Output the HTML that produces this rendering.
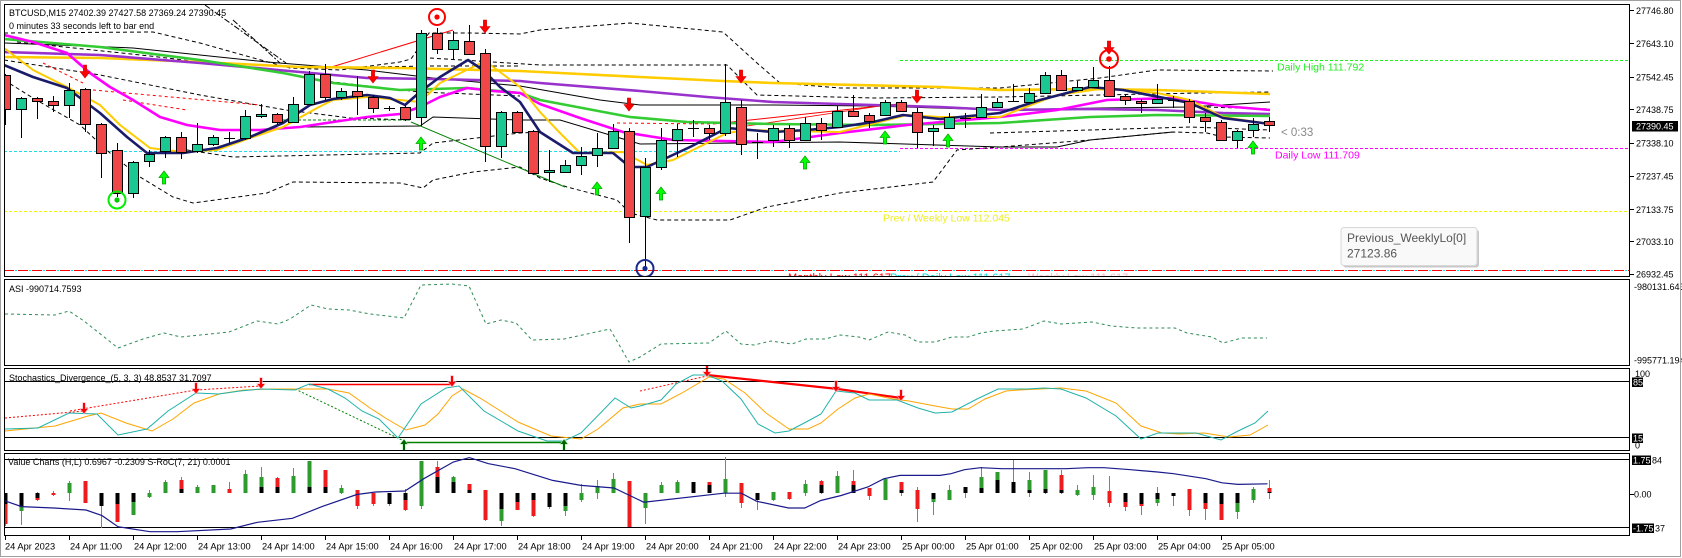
<!DOCTYPE html>
<html><head><meta charset="utf-8"><style>
html,body{margin:0;padding:0;background:#fff;}
svg{display:block;}
text{font-family:"Liberation Sans",Arial,sans-serif;}
</style></head><body>
<svg width="1682" height="558" viewBox="0 0 1682 558" xmlns="http://www.w3.org/2000/svg">
<defs>
<clipPath id="cm"><rect x="5" y="5" width="1624" height="271"/></clipPath>
<clipPath id="cs"><rect x="5" y="280" width="1624" height="255"/></clipPath>
<path id="dn" d="M-1.6,-7H1.6V-0.5H5L0,6L-5,-0.5H-1.6Z"/>
<path id="up" d="M-1.6,7H1.6V0.5H5L0,-6L-5,0.5H-1.6Z"/>
<path id="sdn" d="M-1,-6H1V0H3.5L0,4.5L-3.5,0H-1Z"/>
<path id="sup" d="M-1,6H1V0H3.5L0,-4.5L-3.5,0H-1Z"/>
</defs>
<rect x="0" y="0" width="1682" height="558" fill="#fff"/>
<rect x="0.5" y="0.5" width="1680" height="556" fill="none" stroke="#a0a0a0"/>

<!-- MAIN CHART -->
<g clip-path="url(#cm)">
<line x1="4" y1="151.5" x2="900" y2="151.5" stroke="#22dbe6" stroke-dasharray="3 2"/>
<line x1="900" y1="60.5" x2="1630" y2="60.5" stroke="#22ee22" stroke-dasharray="3 2"/>
<line x1="900" y1="148.5" x2="1630" y2="148.5" stroke="#ff00ff" stroke-dasharray="3 2"/>
<line x1="4" y1="211.5" x2="1630" y2="211.5" stroke="#f2f200" stroke-dasharray="3 2"/>
<line x1="4" y1="270.5" x2="1630" y2="270.5" stroke="#ff0000" stroke-dasharray="10 4"/>
<line x1="4" y1="270.5" x2="1630" y2="270.5" stroke="#00e5ee" stroke-dasharray="2 12" stroke-dashoffset="-11"/>

<g fill="none" stroke="#000" stroke-width="1">
<polyline points="4,43 133,48 267,62 367,70 433,78 520,86 600,100 640,105 773,105 873,106 1000,110 1100,108 1190,107 1270,102"/>
<polyline stroke-dasharray="4 3" points="4,33 153,32 200,43 250,57 290,68 340,70 400,62 411,59 429,33 470,33 520,34 540,30 630,23 723,32 757,63 780,83 840,88 1000,88 1100,78 1157,70 1273,71"/>
<polyline stroke-dasharray="4 3" points="17,42 150,56 267,70 333,82 420,92 520,96"/>
<polyline stroke-dasharray="4 3" points="4,60 100,75 200,95 286,110 350,118 411,120"/>
<polyline stroke-dasharray="4 3" points="4,80 33,98 80,125 110,153 140,177 173,197 193,203 230,198 267,193 293,182 400,183 423,188 433,180 473,172 520,167 540,178 567,187 617,200 630,213 657,220 730,220 767,207 840,193 933,182 957,150 1000,147 1090,140 1173,132 1207,133 1223,137 1270,138"/>
<polyline stroke-dasharray="4 3" points="187,150 233,157 420,153 433,143 520,133 540,132"/>
<polyline points="300,127 420,126 433,117 520,120 560,120 640,144 840,142 1000,147 1057,147 1090,140 1173,132"/>
<polyline stroke-dasharray="6 2 2 2" points="233,20 280,63"/>
<polyline stroke-dasharray="6 2 2 2" points="205,5 286,63"/>
<polyline stroke-dasharray="4 3" points="430,58 540,65 727,65 757,95 873,98 1000,97 1100,95 1200,93 1270,92"/>
<polyline stroke-dasharray="4 3" points="367,67 433,66 520,66"/>
<polyline stroke-dasharray="4 3" points="990,133 1190,127 1270,130"/>
<polyline stroke-dasharray="4 3" points="1207,107 1270,109"/>
</g>

<line x1="325" y1="69" x2="453" y2="30" stroke="#ff0000"/>
<line x1="43" y1="63" x2="83" y2="83" stroke="#ff0000" stroke-dasharray="3 3"/>
<line x1="93" y1="90" x2="260" y2="105" stroke="#ff0000" stroke-dasharray="3 3"/>
<line x1="123" y1="100" x2="187" y2="110" stroke="#ff0000" stroke-dasharray="3 3"/>
<line x1="617" y1="123" x2="713" y2="124" stroke="#ff0000" stroke-dasharray="3 3"/>
<line x1="713" y1="124" x2="907" y2="103" stroke="#ff0000"/>
<line x1="740" y1="127" x2="880" y2="106" stroke="#ff0000" stroke-width="0.8"/>
<line x1="283" y1="120" x2="410" y2="120" stroke="#008000" stroke-dasharray="3 2"/>
<line x1="411" y1="122" x2="565" y2="187" stroke="#008000"/>

<g fill="none" stroke-linejoin="round">
<polyline stroke="#ffcc00" stroke-width="2.6" points="4,57 100,58 200,62 300,67 400,68 520,71 560,73 640,77 723,81 773,83 940,87 1000,90 1090,89 1157,90 1270,94"/>
<polyline stroke="#9932cc" stroke-width="2.6" points="4,52 100,55 200,63 300,72 367,78 433,79 520,81 540,83 640,91 707,97 773,102 873,105 940,107 1000,110 1090,109 1157,110 1223,113 1270,114"/>
<polyline stroke="#33cc33" stroke-width="2.6" points="4,39 100,47 200,60 283,73 333,83 400,90 467,88 520,93 540,100 630,117 687,122 773,124 873,125 1000,123 1090,117 1157,115 1270,116"/>
<polyline stroke="#ff00ff" stroke-width="2.6" points="4,35 33,42 67,53 90,73 110,87 133,100 160,117 187,125 220,130 260,130 300,127 333,122 367,117 400,114 420,107 440,97 467,88 493,91 520,93 540,104 580,118 623,132 673,140 773,142 840,133 907,125 1000,117 1057,110 1107,100 1173,98 1223,106 1270,110"/>
<polyline stroke="#ffcc00" stroke-width="2" points="4,48 33,70 67,87 100,105 120,125 150,148 183,152 217,150 250,138 283,127 317,108 333,100 367,97 400,100 420,102 440,83 485,61 500,72 520,87 540,112 560,133 580,153 623,152 647,165 673,160 727,133 747,130 840,132 907,115 940,117 1000,117 1057,95 1107,88 1157,93 1190,100 1223,117 1270,124"/>
<polyline stroke="#1b1b6b" stroke-width="2.6" points="4,65 33,77 67,88 100,113 127,137 147,153 183,153 217,148 250,137 283,123 310,105 333,99 367,95 390,98 405,105 420,92 440,77 468,60 483,70 500,87 520,102 540,132 573,153 613,153 630,167 647,167 690,147 727,128 773,132 807,130 840,127 873,122 903,115 940,119 1000,113 1040,100 1090,87 1123,90 1190,103 1223,118 1270,124"/>
</g>

<path fill="none" stroke="#000" stroke-width="1" d="M5.5 74V125M21.5 97V138M37.5 97V119M53.5 96V112M69.5 83V118M85.5 88V132M101.5 123V178M117.5 143V197M133.5 161V198M149.5 150V167M165.5 136V158M181.5 132V159M197.5 123V153M213.5 135V146M229.5 132V143M245.5 110V140M261.5 104V118M277.5 113V125M293.5 97V123M309.5 71V105M325.5 64V100M341.5 88V100M357.5 76V115M373.5 95V113M389.5 106V111M405.5 105V121M421.5 30V126M437.5 28V54M453.5 31V59M469.5 25V55M485.5 49V162M501.5 111V158M517.5 111V133M533.5 130V174M549.5 150V182M565.5 160V172M581.5 147V175M597.5 133V167M613.5 124V149M629.5 128V243M645.5 158V267M661.5 128V170M677.5 124V157M693.5 120V137M709.5 125V140M725.5 64V136M741.5 100V155M757.5 133V159M773.5 125V147M789.5 125V148M805.5 117V141M821.5 118V140M837.5 106V128M853.5 95V117M869.5 113V128M885.5 100V116M901.5 100V112M917.5 108V148M933.5 125V146M949.5 113V129M965.5 113V128M981.5 94V118M997.5 98V108M1013.5 84V102M1029.5 88V103M1045.5 72V94M1061.5 70V91M1077.5 81V91M1093.5 67V88M1109.5 66V97M1125.5 95V105M1141.5 99V113M1157.5 84V104M1173.5 96V108M1189.5 99V123M1205.5 113V132M1221.5 120V141M1237.5 130V148M1253.5 118V137M1269.5 117V132"/>
<path fill="none" stroke="#000" d="M224 138.5H235M384 108.5H395M688 128.5H699M752 142.5H763M960 118.5H971M1008 101.5H1019M1168 100.5H1179"/>
<g fill="#1cc891" stroke="#000" stroke-width="1">
<rect x="16.5" y="98.5" width="10" height="11"/><rect x="64.5" y="90.5" width="10" height="15"/><rect x="128.5" y="162.5" width="10" height="31"/><rect x="144.5" y="154.5" width="10" height="7"/><rect x="160.5" y="137.5" width="10" height="14"/><rect x="192.5" y="144.5" width="10" height="7"/><rect x="208.5" y="137.5" width="10" height="7"/><rect x="240.5" y="116.5" width="10" height="22"/><rect x="256.5" y="114.5" width="10" height="2"/><rect x="288.5" y="104.5" width="10" height="18"/><rect x="304.5" y="74.5" width="10" height="30"/><rect x="336.5" y="91.5" width="10" height="6"/><rect x="416.5" y="33.5" width="10" height="84"/><rect x="448.5" y="40.5" width="10" height="9"/><rect x="496.5" y="112.5" width="10" height="34"/><rect x="544.5" y="170.5" width="10" height="2"/><rect x="560.5" y="165.5" width="10" height="7"/><rect x="576.5" y="156.5" width="10" height="9"/><rect x="592.5" y="148.5" width="10" height="7"/><rect x="608.5" y="131.5" width="10" height="17"/><rect x="640.5" y="167.5" width="10" height="49"/><rect x="656.5" y="140.5" width="10" height="27"/><rect x="672.5" y="129.5" width="10" height="11"/><rect x="720.5" y="102.5" width="10" height="31"/><rect x="768.5" y="128.5" width="10" height="12"/><rect x="800.5" y="123.5" width="10" height="17"/><rect x="832.5" y="111.5" width="10" height="16"/><rect x="880.5" y="102.5" width="10" height="13"/><rect x="928.5" y="128.5" width="10" height="3"/><rect x="944.5" y="117.5" width="10" height="11"/><rect x="976.5" y="107.5" width="10" height="10"/><rect x="992.5" y="102.5" width="10" height="5"/><rect x="1024.5" y="93.5" width="10" height="9"/><rect x="1040.5" y="75.5" width="10" height="18"/><rect x="1072.5" y="87.5" width="10" height="3"/><rect x="1088.5" y="80.5" width="10" height="7"/><rect x="1152.5" y="99.5" width="10" height="4"/><rect x="1232.5" y="131.5" width="10" height="9"/><rect x="1248.5" y="124.5" width="10" height="6"/>
</g>
<g fill="#ef4747" stroke="#000" stroke-width="1">
<rect x="0.5" y="75.5" width="10" height="34"/><rect x="32.5" y="98.5" width="10" height="3"/><rect x="48.5" y="101.5" width="10" height="4"/><rect x="80.5" y="89.5" width="10" height="35"/><rect x="96.5" y="124.5" width="10" height="29"/><rect x="112.5" y="150.5" width="10" height="43"/><rect x="176.5" y="137.5" width="10" height="15"/><rect x="272.5" y="114.5" width="10" height="8"/><rect x="320.5" y="74.5" width="10" height="23"/><rect x="352.5" y="91.5" width="10" height="5"/><rect x="368.5" y="97.5" width="10" height="11"/><rect x="400.5" y="107.5" width="10" height="12"/><rect x="432.5" y="33.5" width="10" height="16"/><rect x="464.5" y="41.5" width="10" height="13"/><rect x="480.5" y="53.5" width="10" height="93"/><rect x="512.5" y="112.5" width="10" height="20"/><rect x="528.5" y="131.5" width="10" height="42"/><rect x="624.5" y="131.5" width="10" height="86"/><rect x="704.5" y="128.5" width="10" height="5"/><rect x="736.5" y="107.5" width="10" height="37"/><rect x="784.5" y="128.5" width="10" height="12"/><rect x="816.5" y="123.5" width="10" height="7"/><rect x="848.5" y="111.5" width="10" height="5"/><rect x="864.5" y="115.5" width="10" height="6"/><rect x="896.5" y="102.5" width="10" height="9"/><rect x="912.5" y="112.5" width="10" height="20"/><rect x="1056.5" y="75.5" width="10" height="15"/><rect x="1104.5" y="80.5" width="10" height="16"/><rect x="1120.5" y="96.5" width="10" height="4"/><rect x="1136.5" y="101.5" width="10" height="2"/><rect x="1184.5" y="101.5" width="10" height="16"/><rect x="1200.5" y="117.5" width="10" height="4"/><rect x="1216.5" y="122.5" width="10" height="18"/><rect x="1264.5" y="121.5" width="10" height="4"/>
</g>

<g fill="#ff0000" stroke="#d00000" stroke-width="0.6">
<use href="#dn" x="85" y="72"/><use href="#dn" x="373" y="77"/><use href="#dn" x="485" y="27"/><use href="#dn" x="629" y="105"/><use href="#dn" x="741" y="77"/><use href="#dn" x="917" y="97"/><use href="#dn" x="1109" y="48"/>
</g>
<g fill="#00ff00" stroke="#00a000" stroke-width="0.7">
<use href="#up" x="164" y="177"/><use href="#up" x="421" y="143"/><use href="#up" x="597" y="188"/><use href="#up" x="661" y="193"/><use href="#up" x="805" y="162"/><use href="#up" x="885" y="137"/><use href="#up" x="948" y="140"/><use href="#up" x="1253" y="147"/>
</g>
<circle cx="437" cy="17" r="8" fill="none" stroke="#ff0000" stroke-width="2"/><circle cx="437" cy="17" r="2.6" fill="#ff0000"/>
<circle cx="117" cy="200" r="8.5" fill="none" stroke="#00ee00" stroke-width="2"/><circle cx="117" cy="200" r="2.6" fill="#00cc00"/>
<circle cx="645" cy="268.5" r="8.5" fill="none" stroke="#1a2a8c" stroke-width="2"/><circle cx="645" cy="268.5" r="2.6" fill="#1a2a8c"/>
<circle cx="1109" cy="59" r="9" fill="none" stroke="#ff0000" stroke-width="2"/><circle cx="1109" cy="59" r="2.8" fill="#ff0000"/>

<text x="1277" y="70.5" font-size="10.5" fill="#22ee22">Daily High 111.792</text>
<text x="1275" y="158.5" font-size="10.5" fill="#ff00ff">Daily Low 111.709</text>
<text x="1281" y="136" font-size="11.5" fill="#888">&lt; 0:33</text>
<text x="883" y="221.5" font-size="10.5" fill="#eeee22">Prev / Weekly Low 112.045</text>
<text x="788" y="281" font-size="11" fill="#ff0000">Monthly Low 111.617</text>
<text x="890" y="281" font-size="11" fill="#00e0e8">Prev / Daily Low 111.617</text>
<text x="1028" y="281" font-size="11" fill="#ffb6c1">Weekly Low 111.617</text>

<text x="9" y="16" font-size="9" fill="#000">BTCUSD,M15  27402.39 27427.58 27369.24 27390.45</text>
<text x="9" y="29" font-size="9" fill="#000">0 minutes 33 seconds left to bar end</text>
</g>

<rect x="1343" y="229.5" width="136" height="38" rx="3" fill="#9a9a9a" opacity="0.55"/>
<rect x="1341" y="227.5" width="136" height="38" rx="3" fill="#f9f9f9" stroke="#d8d8d8"/>
<text x="1347" y="242" font-size="12" fill="#555">Previous_WeeklyLo[0]</text>
<text x="1347" y="257.5" font-size="12" fill="#555">27123.86</text>

<g clip-path="url(#cs)">
<polyline fill="none" stroke="#2e8b57" stroke-width="1" stroke-dasharray="3 3" points="5,314 55,315 69,311 84,321 118,348 143,339 164,333 181,337 229,332 257,321 278,324 290,319 311,305 328,309 349,310 370,314 404,318 421,285 452,284 469,286 486,324 501,320 516,323 532,340 564,339 610,329 629,362 640,357 661,344 709,343 726,331 741,344 754,345 771,341 792,344 806,339 825,339 840,335 859,337 869,340 888,332 905,335 918,342 935,342 952,337 968,337 981,333 994,331 1023,329 1044,321 1061,324 1092,322 1111,326 1137,328 1175,328 1187,333 1212,337 1223,343 1242,338 1267,338"/>

<line x1="5" y1="381.5" x2="1630" y2="381.5" stroke="#000"/>
<line x1="5" y1="437.5" x2="1630" y2="437.5" stroke="#000"/>
<polyline fill="none" stroke="#ff0000" stroke-dasharray="2 2" points="5,418 84,411"/>
<polyline fill="none" stroke="#ff0000" stroke-dasharray="2 2" points="70,411 196,390 261,386"/>
<polyline fill="none" stroke="#ff0000" stroke-dasharray="2 2" points="640,391 707,376"/>
<line x1="309" y1="384.5" x2="452" y2="384.5" stroke="#ff0000" stroke-width="1.5"/>
<polyline fill="none" stroke="#ff0000" stroke-width="2.2" points="707,375 838,389 901,398"/>
<line x1="295" y1="389" x2="404" y2="441" stroke="#008000" stroke-dasharray="2 2"/>
<line x1="404" y1="442.5" x2="564" y2="442.5" stroke="#008000" stroke-width="1.5"/>
<polyline fill="none" stroke="#ffa500" stroke-width="1" points="5,431 55,426 88,416 101,413 126,423 152,431 173,419 194,403 219,394 244,390 274,389 303,389 328,389 349,393 370,408 387,419 406,430 425,425 438,414 452,396 463,389 480,398 518,422 551,436 581,439 598,429 623,408 640,404 661,404 682,393 709,377 724,379 745,393 766,413 789,429 808,429 821,423 838,409 855,398 869,394 893,399 909,401 935,406 952,409 968,409 985,399 1006,391 1019,390 1061,388 1086,391 1116,403 1141,426 1162,433 1179,434 1204,433 1229,437 1250,435 1268,425"/>
<polyline fill="none" stroke="#20b2aa" stroke-width="1" points="5,429 38,428 69,413 97,414 118,435 147,429 168,411 196,393 219,394 240,391 261,389 295,390 309,384 328,389 345,398 362,411 379,419 398,438 421,404 446,388 459,386 484,411 518,431 547,441 564,441 581,433 615,398 631,408 640,406 661,400 676,384 693,375 707,375 722,381 741,399 758,424 775,433 789,431 808,421 821,414 836,391 855,393 869,400 897,400 918,408 935,413 952,412 977,399 998,389 1027,389 1044,388 1061,389 1086,398 1116,416 1141,439 1158,433 1196,433 1221,440 1238,431 1255,423 1268,411"/>
<g fill="#ff0000" stroke="#ffb0c0" stroke-width="1.2" paint-order="stroke">
<use href="#sdn" x="84" y="409"/><use href="#sdn" x="196" y="389"/><use href="#sdn" x="261" y="384"/><use href="#sdn" x="452" y="382"/><use href="#sdn" x="707" y="372"/><use href="#sdn" x="836" y="387"/><use href="#sdn" x="901" y="396"/>
</g>
<g fill="#006400" stroke="#b0f0b0" stroke-width="1.2" paint-order="stroke">
<use href="#sup" x="404" y="444"/><use href="#sup" x="564" y="444"/>
</g>

<line x1="5" y1="459.5" x2="1630" y2="459.5" stroke="#000"/>
<line x1="5" y1="527.5" x2="1630" y2="527.5" stroke="#000"/>
<path fill="none" stroke="#808080" stroke-width="1" d="M5.5 493V526M21.5 493V525M37.5 492V501M53.5 491V496M69.5 481V501M85.5 481V503M101.5 494V528M117.5 493V522M133.5 493V515M149.5 490V498M165.5 480V493M181.5 477V493M197.5 485V493M213.5 485V493M229.5 482V493M245.5 470V493M261.5 467V493M277.5 477V493M293.5 468V493M309.5 461V493M325.5 470V493M341.5 485V494M357.5 490V509M373.5 493V506M389.5 493V506M405.5 489V511M421.5 461V509M437.5 461V493M453.5 476V493M469.5 484V493M485.5 490V521M501.5 493V526M517.5 493V510M533.5 493V517M549.5 493V509M565.5 493V516M581.5 484V502M597.5 480V499M613.5 473V493M629.5 481V527M645.5 493V524M661.5 482V493M677.5 480V493M693.5 482V493M709.5 482V493M725.5 457V497M741.5 483V508M757.5 493V510M773.5 492V501M789.5 492V500M805.5 480V496M821.5 480V494M837.5 471V493M853.5 470V493M869.5 488V500M885.5 479V500M901.5 482V496M917.5 487V522M933.5 493V515M949.5 485V500M965.5 487V498M981.5 467V493M997.5 472V493M1013.5 460V493M1029.5 472V497M1045.5 470V494M1061.5 470V494M1077.5 485V496M1093.5 475V500M1109.5 476V507M1125.5 493V511M1141.5 493V515M1157.5 487V506M1173.5 493V506M1189.5 489V516M1205.5 493V520M1221.5 493V520M1237.5 493V519M1253.5 487V503M1269.5 480V499"/>
<path fill="#000" d="M3.5 493h4V504h-4ZM19.5 493h4V507h-4ZM35.5 493h4V499h-4ZM99.5 493h4V506h-4ZM115.5 493h4V504h-4ZM131.5 493h4V502h-4ZM179.5 489h4V493h-4ZM259.5 487h4V493h-4ZM275.5 487h4V493h-4ZM307.5 487h4V493h-4ZM323.5 487h4V493h-4ZM387.5 493h4V504h-4ZM403.5 493h4V500h-4ZM435.5 477h4V493h-4ZM451.5 482h4V493h-4ZM467.5 490h4V493h-4ZM499.5 493h4V509h-4ZM515.5 493h4V502h-4ZM531.5 493h4V500h-4ZM547.5 493h4V507h-4ZM563.5 493h4V506h-4ZM691.5 482h4V493h-4ZM707.5 485h4V493h-4ZM755.5 493h4V500h-4ZM819.5 485h4V493h-4ZM851.5 485h4V493h-4ZM899.5 490h4V493h-4ZM931.5 493h4V499h-4ZM963.5 487h4V493h-4ZM979.5 488h4V493h-4ZM995.5 480h4V493h-4ZM1011.5 482h4V493h-4ZM1027.5 490h4V493h-4ZM1043.5 489h4V493h-4ZM1059.5 490h4V493h-4ZM1123.5 493h4V502h-4ZM1139.5 493h4V504h-4ZM1155.5 493h4V499h-4ZM1171.5 493h4V496h-4ZM1203.5 493h4V503h-4ZM1219.5 493h4V504h-4ZM1235.5 493h4V503h-4ZM1267.5 492h4V493h-4Z"/>
<path fill="#2e9b2e" d="M19.5 507h4V511h-4ZM67.5 483h4V493h-4ZM131.5 502h4V515h-4ZM147.5 493h4V497h-4ZM163.5 482h4V493h-4ZM195.5 487h4V493h-4ZM211.5 485h4V493h-4ZM243.5 474h4V493h-4ZM259.5 477h4V487h-4ZM291.5 476h4V493h-4ZM307.5 461h4V487h-4ZM339.5 488h4V493h-4ZM419.5 461h4V506h-4ZM451.5 477h4V482h-4ZM499.5 509h4V521h-4ZM563.5 506h4V511h-4ZM579.5 493h4V500h-4ZM595.5 486h4V493h-4ZM611.5 479h4V493h-4ZM643.5 493h4V508h-4ZM659.5 485h4V493h-4ZM675.5 482h4V493h-4ZM723.5 479h4V493h-4ZM771.5 492h4V500h-4ZM803.5 484h4V493h-4ZM835.5 476h4V493h-4ZM883.5 479h4V500h-4ZM931.5 499h4V502h-4ZM947.5 490h4V500h-4ZM979.5 477h4V488h-4ZM995.5 472h4V480h-4ZM1027.5 480h4V490h-4ZM1043.5 470h4V489h-4ZM1075.5 490h4V495h-4ZM1091.5 487h4V495h-4ZM1155.5 499h4V503h-4ZM1235.5 503h4V512h-4ZM1251.5 489h4V500h-4Z"/>
<path fill="#ee1c1c" d="M3.5 504h4V524h-4ZM35.5 498h4V500h-4ZM51.5 493h4V495h-4ZM83.5 481h4V503h-4ZM115.5 504h4V522h-4ZM179.5 480h4V489h-4ZM227.5 489h4V493h-4ZM275.5 478h4V487h-4ZM323.5 470h4V487h-4ZM355.5 490h4V506h-4ZM371.5 493h4V504h-4ZM403.5 500h4V510h-4ZM435.5 467h4V477h-4ZM467.5 484h4V490h-4ZM483.5 490h4V520h-4ZM515.5 502h4V510h-4ZM531.5 500h4V516h-4ZM627.5 481h4V527h-4ZM707.5 482h4V485h-4ZM739.5 483h4V503h-4ZM787.5 492h4V499h-4ZM819.5 481h4V485h-4ZM851.5 481h4V485h-4ZM867.5 488h4V496h-4ZM899.5 482h4V490h-4ZM915.5 490h4V509h-4ZM1059.5 475h4V490h-4ZM1107.5 491h4V503h-4ZM1123.5 502h4V507h-4ZM1139.5 504h4V506h-4ZM1187.5 489h4V510h-4ZM1203.5 503h4V509h-4ZM1219.5 504h4V520h-4ZM1267.5 488h4V492h-4Z"/>
<polyline fill="none" stroke="#1a1a8c" stroke-width="1.2" points="4,500.5 21.5,506.6 53.6,508 86,510 102,515.6 118,526.7 150,531.7 177,531.7 230.7,529 257.5,522.3 292.4,518.3 322,506.6 356.8,494.5 375.5,492 405,491 423.8,478.7 453.3,462 469.4,457.6 488,463.6 515,468.7 552.6,480.4 581,485.4 614,488 643.8,502.2 724,493.2 741.4,493.2 756.4,501.2 788.6,508 804.7,508 820.8,500.5 841.2,495.5 867.8,487 884,478.7 900,475.4 940,475.4 951,473.7 964.4,469.7 980.5,467.7 1002,468.7 1045,468.7 1066,468.7 1087.8,467.7 1104,467.7 1130.7,469.7 1157.5,472 1173.6,473.7 1206,478.7 1222,482.8 1238,484.4 1267.5,483.8"/>
</g>

<text x="9" y="292" font-size="9" fill="#000">ASI -990714.7593</text>
<text x="9" y="381" font-size="9" fill="#000">Stochastics_Divergence_(5, 3, 3) 48.8537 31.7097</text>
<text x="8" y="465" font-size="9" fill="#000">Value Charts (H,L) 0.6967 -0.2309  S-RoC(7, 21) 0.0001</text>

<g fill="none" stroke="#000" stroke-width="1">
<rect x="4.5" y="4.5" width="1625" height="272"/>
<rect x="4.5" y="279.5" width="1625" height="86"/>
<rect x="4.5" y="368.5" width="1625" height="82"/>
<rect x="4.5" y="453.5" width="1625" height="82"/>
</g>

<path stroke="#000" fill="none" d="M1630 10.5h4M1630 43.5h4M1630 77.5h4M1630 109.5h4M1630 143.5h4M1630 176.5h4M1630 209.5h4M1630 241.5h4M1630 274.5h4M1630 494.5h4"/>
<g font-size="9" fill="#000">
<text x="1636" y="14">27746.80</text>
<text x="1636" y="47">27643.10</text>
<text x="1636" y="80.5">27542.45</text>
<text x="1636" y="113">27438.75</text>
<text x="1636" y="146.5">27338.10</text>
<text x="1636" y="179.5">27237.45</text>
<text x="1636" y="213">27133.75</text>
<text x="1636" y="245">27033.10</text>
<text x="1636" y="277.5">26932.45</text>
<text x="1634" y="290">-980131.643</text>
<text x="1634" y="363.5">-995771.194</text>
<text x="1635" y="377">100</text>
<text x="1635" y="448.5">0</text>
<text x="1652" y="463.5">84</text>
<text x="1634" y="497.5">0.00</text>
<text x="1655" y="531.5">37</text>
</g>
<rect x="1632" y="121" width="46" height="10.5" fill="#000"/>
<text x="1636" y="129.5" font-size="9" fill="#fff">27390.45</text>
<rect x="1632" y="377.5" width="11" height="9.5" fill="#000"/>
<text x="1633" y="385.5" font-size="9" fill="#fff">85</text>
<rect x="1632" y="433.5" width="11" height="9.5" fill="#000"/>
<text x="1633" y="441.5" font-size="9" fill="#fff">15</text>
<rect x="1632" y="455.5" width="19" height="9.5" fill="#000"/>
<text x="1633" y="463.5" font-size="9" fill="#fff">1.75</text>
<rect x="1632" y="523.5" width="22" height="9.5" fill="#000"/>
<text x="1633" y="531.5" font-size="9" fill="#fff">-1.75</text>
<line x1="1680.5" y1="0" x2="1680.5" y2="557" stroke="#a0a0a0"/>

<path stroke="#000" fill="none" d="M5.5 536v4M69.5 536v4M133.5 536v4M197.5 536v4M261.5 536v4M325.5 536v4M389.5 536v4M453.5 536v4M517.5 536v4M581.5 536v4M645.5 536v4M709.5 536v4M773.5 536v4M837.5 536v4M901.5 536v4M965.5 536v4M1029.5 536v4M1093.5 536v4M1157.5 536v4M1221.5 536v4"/>
<g font-size="9.3" fill="#000">
<text x="5" y="549.5">24 Apr 2023</text>
<text x="70" y="549.5">24 Apr 11:00</text>
<text x="134" y="549.5">24 Apr 12:00</text>
<text x="198" y="549.5">24 Apr 13:00</text>
<text x="262" y="549.5">24 Apr 14:00</text>
<text x="326" y="549.5">24 Apr 15:00</text>
<text x="390" y="549.5">24 Apr 16:00</text>
<text x="454" y="549.5">24 Apr 17:00</text>
<text x="518" y="549.5">24 Apr 18:00</text>
<text x="582" y="549.5">24 Apr 19:00</text>
<text x="646" y="549.5">24 Apr 20:00</text>
<text x="710" y="549.5">24 Apr 21:00</text>
<text x="774" y="549.5">24 Apr 22:00</text>
<text x="838" y="549.5">24 Apr 23:00</text>
<text x="902" y="549.5">25 Apr 00:00</text>
<text x="966" y="549.5">25 Apr 01:00</text>
<text x="1030" y="549.5">25 Apr 02:00</text>
<text x="1094" y="549.5">25 Apr 03:00</text>
<text x="1158" y="549.5">25 Apr 04:00</text>
<text x="1222" y="549.5">25 Apr 05:00</text>
</g>
</svg>
</body></html>
